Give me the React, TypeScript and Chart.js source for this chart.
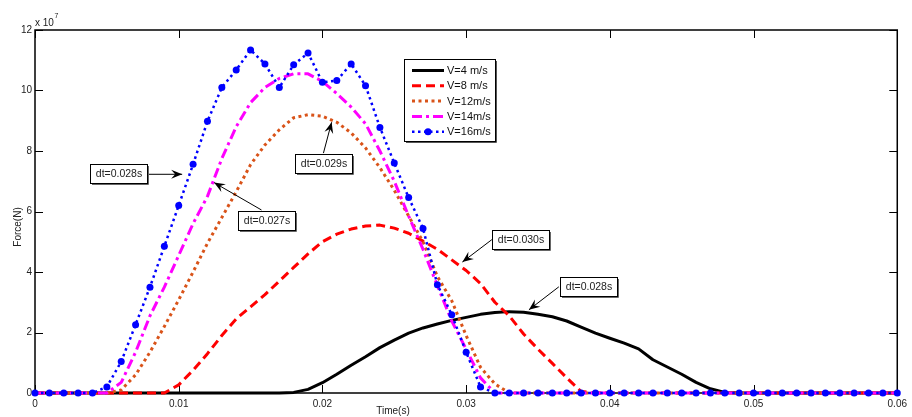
import React, { useEffect, useRef } from "react";
import { Chart, registerables } from "chart.js";

Chart.register(...registerables);

// Time (s)
const timeS = [
  0, 0.001, 0.002, 0.003, 0.004, 0.005, 0.006, 0.007, 0.008, 0.009,
  0.01, 0.011, 0.012, 0.013, 0.014, 0.015, 0.016, 0.017, 0.018, 0.019,
  0.02, 0.021, 0.022, 0.023, 0.024, 0.025, 0.026, 0.027, 0.028, 0.029,
  0.03, 0.031, 0.032, 0.033, 0.034, 0.035, 0.036, 0.037, 0.038, 0.039,
  0.04, 0.041, 0.042, 0.043, 0.044, 0.045, 0.046, 0.047, 0.048, 0.049,
  0.05, 0.051, 0.052, 0.053, 0.054, 0.055, 0.056, 0.057, 0.058, 0.059,
  0.06,
];

// Force in units of 10^7 N
const forceV4 = [
  0, 0, 0, 0, 0, 0, 0, 0, 0, 0,
  0, 0, 0, 0, 0, 0, 0, 0, 0.02, 0.12,
  0.34, 0.62, 0.92, 1.2, 1.5, 1.75, 1.98, 2.15, 2.28, 2.4,
  2.5, 2.6, 2.66, 2.69, 2.67, 2.6, 2.52, 2.38, 2.18, 1.98,
  1.81, 1.65, 1.46, 1.1, 0.86, 0.62, 0.35, 0.14, 0.02, 0,
  0, 0, 0, 0, 0, 0, 0, 0, 0, 0,
  0,
];
const forceV8 = [
  0, 0, 0, 0, 0, 0, 0, 0, 0, 0,
  0.27, 0.75, 1.3, 1.9, 2.45, 2.85, 3.25, 3.7, 4.15, 4.6,
  5.0, 5.25, 5.42, 5.52, 5.55, 5.45, 5.28, 5.02, 4.75, 4.4,
  4.05, 3.62, 3.0, 2.55, 1.95, 1.45, 0.98, 0.5, 0.05, 0,
  0, 0, 0, 0, 0, 0, 0, 0, 0, 0,
  0, 0, 0, 0, 0, 0, 0, 0, 0, 0,
  0,
];
const forceV12 = [
  0, 0, 0, 0, 0, 0, 0.1, 0.6, 1.35, 2.2,
  3.08, 4.0, 4.95, 5.8, 6.65, 7.55, 8.2, 8.7, 9.1, 9.2,
  9.15, 8.95, 8.6, 8.1, 7.45, 6.7, 5.85, 5.0, 3.85, 3.05,
  1.9, 0.85, 0.3, 0, 0, 0, 0, 0, 0, 0,
  0, 0, 0, 0, 0, 0, 0, 0, 0, 0,
  0, 0, 0, 0, 0, 0, 0, 0, 0, 0,
  0,
];
const forceV14 = [
  0, 0, 0, 0, 0, 0, 0.35, 1.35, 2.55, 3.5,
  4.55, 5.6, 6.5, 7.75, 8.8, 9.6, 10.1, 10.4, 10.55, 10.55,
  10.3, 9.9, 9.45, 8.9, 8.0, 7.0, 5.85, 4.75, 3.55, 2.38,
  1.45, 0.5, 0, 0, 0, 0, 0, 0, 0, 0,
  0, 0, 0, 0, 0, 0, 0, 0, 0, 0,
  0, 0, 0, 0, 0, 0, 0, 0, 0, 0,
  0,
];
const forceV16 = [
  0, 0, 0, 0, 0, 0.2, 1.04, 2.26, 3.5, 4.85,
  6.2, 7.56, 8.98, 10.1, 10.68, 11.34, 10.88, 10.1, 10.85, 11.24,
  10.27, 10.33, 10.88, 10.16, 8.78, 7.6, 6.46, 5.44, 3.58, 2.59,
  1.35, 0.2, 0, 0, 0, 0, 0, 0, 0, 0,
  0, 0, 0, 0, 0, 0, 0, 0, 0, 0,
  0, 0, 0, 0, 0, 0, 0, 0, 0, 0,
  0,
];

const seriesLabels = ["V=4 m/s", "V=8 m/s", "V=12m/s", "V=14m/s", "V=16m/s"];
const xTickValues = [0, 0.01, 0.02, 0.03, 0.04, 0.05, 0.06];
const yTickValues = [0, 2, 4, 6, 8, 10, 12];

// Annotation texts with box centre and arrow (data coordinates)
const annotationTexts = ["dt=0.028s", "dt=0.027s", "dt=0.029s", "dt=0.030s", "dt=0.028s"];
const annotationBox = [
  [0.00582, 7.26],
  [0.01612, 5.71],
  [0.02005, 7.6],
  [0.03379, 5.06],
  [0.0385, 3.52],
];
const annotationArrowFrom = [
  [0.00773, 7.23],
  [0.01576, 6.05],
  [0.02007, 7.93],
  [0.03179, 5.07],
  [0.03645, 3.51],
];
const annotationArrowTo = [
  [0.01024, 7.23],
  [0.01246, 6.955],
  [0.02064, 8.95],
  [0.02974, 4.33],
  [0.03437, 2.75],
];

const FONT = '"Liberation Sans", Arial, Helvetica, sans-serif';
const ORANGE = "#D95319";

const styles = [
  { color: "#000000", width: 3, dash: [] as number[], marker: false },
  { color: "#ff0000", width: 3, dash: [9, 5], marker: false },
  { color: ORANGE, width: 3, dash: [3, 3.5], marker: false },
  { color: "#ff00ff", width: 3, dash: [10, 4, 3, 4], marker: false },
  { color: "#0000ff", width: 2.5, dash: [2.5, 3.5], marker: true },
];

function drawArrow(ctx: CanvasRenderingContext2D, x0: number, y0: number, x1: number, y1: number) {
  ctx.save();
  ctx.strokeStyle = "#000";
  ctx.fillStyle = "#000";
  ctx.lineWidth = 1;
  ctx.beginPath();
  ctx.moveTo(x0, y0);
  ctx.lineTo(x1, y1);
  ctx.stroke();
  const ang = Math.atan2(y1 - y0, x1 - x0);
  const L = 11;
  const W = 4.5;
  const N = 7;
  const cos = Math.cos(ang);
  const sin = Math.sin(ang);
  const bx = x1 - L * cos;
  const by = y1 - L * sin;
  ctx.beginPath();
  ctx.moveTo(x1, y1);
  ctx.lineTo(bx - W * sin, by + W * cos);
  ctx.lineTo(x1 - N * cos, y1 - N * sin);
  ctx.lineTo(bx + W * sin, by - W * cos);
  ctx.closePath();
  ctx.fill();
  ctx.restore();
}

const decorPlugin = {
  id: "decor",
  beforeDatasetsDraw(chart: any) {
    const { ctx, chartArea } = chart;
    const xs = chart.scales.x;
    const ys = chart.scales.y;
    const { left, right, top, bottom } = chartArea;
    ctx.save();
    ctx.strokeStyle = "#000";
    ctx.lineWidth = 1.5;
    ctx.strokeRect(left, top, right - left, bottom - top);
    ctx.lineWidth = 1;
    const tl = 8;
    ctx.beginPath();
    xTickValues.forEach((v) => {
      const px = Math.round(xs.getPixelForValue(v)) + 0.5;
      ctx.moveTo(px, bottom);
      ctx.lineTo(px, bottom - tl);
      ctx.moveTo(px, top);
      ctx.lineTo(px, top + tl);
    });
    yTickValues.forEach((v) => {
      const py = Math.round(ys.getPixelForValue(v)) + 0.5;
      ctx.moveTo(left, py);
      ctx.lineTo(left + tl, py);
      ctx.moveTo(right, py);
      ctx.lineTo(right - tl, py);
    });
    ctx.stroke();
    ctx.restore();
  },
  afterDraw(chart: any) {
    const { ctx, chartArea } = chart;
    const xs = chart.scales.x;
    const ys = chart.scales.y;
    ctx.save();
    ctx.fillStyle = "#222";
    ctx.textBaseline = "alphabetic";
    // exponent label
    ctx.font = `10px ${FONT}`;
    ctx.textAlign = "left";
    ctx.fillText("x 10", chartArea.left, 25.5);
    ctx.font = `7px ${FONT}`;
    ctx.fillText("7", chartArea.left + 19.5, 17.5);
    // axis titles
    ctx.font = `10px ${FONT}`;
    ctx.textAlign = "center";
    ctx.textBaseline = "middle";
    ctx.fillText("Time(s)", 393, 411);
    ctx.save();
    ctx.translate(18.5, 227);
    ctx.rotate(-Math.PI / 2);
    ctx.fillText("Force(N)", 0, 0);
    ctx.restore();

    // legend
    const lx = 404;
    const ly = 59;
    const lw = 91;
    const lh = 82;
    ctx.fillStyle = "#fff";
    ctx.fillRect(lx, ly, lw, lh);
    ctx.strokeStyle = "#000";
    ctx.lineWidth = 1;
    ctx.strokeRect(lx + 0.5, ly + 0.5, lw, lh);
    ctx.strokeStyle = "#555";
    ctx.beginPath();
    ctx.moveTo(lx + lw + 1.5, ly + 2);
    ctx.lineTo(lx + lw + 1.5, ly + lh + 1.5);
    ctx.lineTo(lx + 2, ly + lh + 1.5);
    ctx.stroke();
    seriesLabels.forEach((lab, i) => {
      const st = styles[i];
      const yy = ly + 11.5 + i * 15.3;
      ctx.save();
      ctx.strokeStyle = st.color;
      ctx.lineWidth = st.width;
      ctx.setLineDash(st.dash);
      ctx.beginPath();
      ctx.moveTo(lx + 8, yy);
      ctx.lineTo(lx + 40, yy);
      ctx.stroke();
      if (st.marker) {
        ctx.setLineDash([]);
        ctx.fillStyle = st.color;
        ctx.beginPath();
        ctx.arc(lx + 24, yy, 3.5, 0, Math.PI * 2);
        ctx.fill();
      }
      ctx.restore();
      ctx.fillStyle = "#111";
      ctx.font = `11px ${FONT}`;
      ctx.textAlign = "left";
      ctx.textBaseline = "middle";
      ctx.fillText(lab, lx + 43, yy + 0.5);
    });

    // annotations
    annotationTexts.forEach((txt, i) => {
      const cx = xs.getPixelForValue(annotationBox[i][0]);
      const cy = ys.getPixelForValue(annotationBox[i][1]);
      ctx.font = `10.5px ${FONT}`;
      const tw = ctx.measureText(txt).width;
      const bw = Math.round(tw + 11);
      const bh = 19;
      const bx = Math.round(cx - bw / 2);
      const by = Math.round(cy - bh / 2);
      drawArrow(
        ctx,
        xs.getPixelForValue(annotationArrowFrom[i][0]),
        ys.getPixelForValue(annotationArrowFrom[i][1]),
        xs.getPixelForValue(annotationArrowTo[i][0]),
        ys.getPixelForValue(annotationArrowTo[i][1])
      );
      ctx.fillStyle = "#fff";
      ctx.fillRect(bx, by, bw, bh);
      ctx.strokeStyle = "#000";
      ctx.lineWidth = 1;
      ctx.strokeRect(bx + 0.5, by + 0.5, bw, bh);
      ctx.strokeStyle = "#666";
      ctx.beginPath();
      ctx.moveTo(bx + bw + 1.5, by + 2);
      ctx.lineTo(bx + bw + 1.5, by + bh + 1.5);
      ctx.lineTo(bx + 2, by + bh + 1.5);
      ctx.stroke();
      ctx.fillStyle = "#222";
      ctx.textAlign = "center";
      ctx.textBaseline = "middle";
      ctx.fillText(txt, bx + bw / 2 + 0.5, by + bh / 2 + 1);
    });
    ctx.restore();
  },
};

export default function App() {
  const ref = useRef<HTMLCanvasElement | null>(null);
  useEffect(() => {
    if (!ref.current) return;
    const series = [forceV4, forceV8, forceV12, forceV14, forceV16];
    const datasets = series.map((vals, i) => {
      const st = styles[i];
      return {
        label: seriesLabels[i],
        data: timeS.map((t, k) => ({ x: t, y: vals[k] })),
        borderColor: st.color,
        backgroundColor: st.color,
        borderWidth: st.width,
        borderDash: st.dash,
        borderCapStyle: "butt" as const,
        borderJoinStyle: "round" as const,
        pointRadius: st.marker ? 3.5 : 0,
        pointBackgroundColor: st.color,
        pointBorderWidth: 0,
        fill: false,
        tension: 0,
        clip: false as const,
        order: 4 - i,
      };
    });
    const chart = new Chart(ref.current, {
      type: "line",
      data: { datasets },
      options: {
        animation: false,
        responsive: false,
        maintainAspectRatio: false,
        layout: { padding: { top: 30, right: 10, left: 0, bottom: 0 } },
        plugins: { legend: { display: false }, tooltip: { enabled: false } },
        scales: {
          x: {
            type: "linear",
            min: 0,
            max: 0.06,
            afterFit: (s: any) => {
              s.height = 24;
            },
            afterBuildTicks: (s: any) => {
              s.ticks = xTickValues.map((v) => ({ value: v }));
            },
            grid: { display: false, drawTicks: false },
            border: { display: false },
            ticks: {
              padding: 5,
              color: "#222",
              font: { family: FONT, size: 10 },
              maxRotation: 0,
              autoSkip: false,
              callback: (v: any) => String(Number(Number(v).toFixed(2))),
            },
          },
          y: {
            type: "linear",
            min: 0,
            max: 12,
            afterFit: (s: any) => {
              s.width = 35;
            },
            afterBuildTicks: (s: any) => {
              s.ticks = yTickValues.map((v) => ({ value: v }));
            },
            grid: { display: false, drawTicks: false },
            border: { display: false },
            ticks: {
              padding: 3,
              color: "#222",
              font: { family: FONT, size: 10 },
              autoSkip: false,
              callback: (v: any) => String(v),
            },
          },
        },
      },
      plugins: [decorPlugin],
    });
    return () => chart.destroy();
  }, []);
  return (
    <div style={{ position: "fixed", left: 0, top: 0, width: 912, height: 417, background: "#fff" }}>
      <canvas ref={ref} width={912} height={417} style={{ width: 912, height: 417, display: "block" }} />
    </div>
  );
}
